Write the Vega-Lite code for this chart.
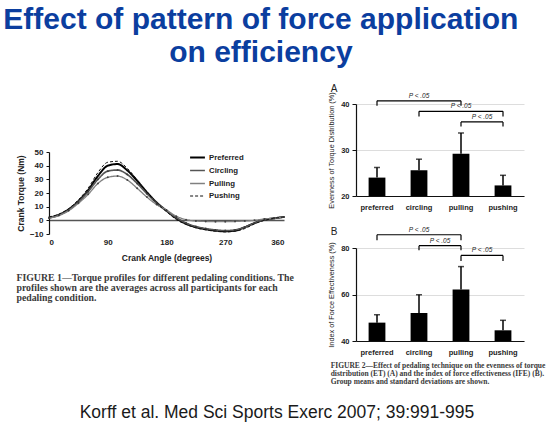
{
  "$schema": "https://vega.github.io/schema/vega-lite/v6.json",
  "padding": {"left": 3, "top": 4, "right": 2, "bottom": 4},
  "background": "white",
  "title": {
    "text": ["Effect of pattern of force application", "on efficiency"],
    "anchor": "middle",
    "font": "Liberation Sans",
    "fontSize": 30,
    "fontWeight": "bold",
    "color": "#0b3e9f",
    "lineHeight": 33,
    "dx": -20,
    "offset": 16
  },
  "datasets": {
    "torque": [
      {"angle": 0, "condition": "Preferred", "torque": 2.0}, {"angle": 0, "condition": "Circling", "torque": 2.0}, {"angle": 0, "condition": "Pulling", "torque": 1.5}, {"angle": 0, "condition": "Pushing", "torque": 2.5},
      {"angle": 15, "condition": "Preferred", "torque": 4.0}, {"angle": 15, "condition": "Circling", "torque": 4.0}, {"angle": 15, "condition": "Pulling", "torque": 3.5}, {"angle": 15, "condition": "Pushing", "torque": 4.5},
      {"angle": 30, "condition": "Preferred", "torque": 8.0}, {"angle": 30, "condition": "Circling", "torque": 7.5}, {"angle": 30, "condition": "Pulling", "torque": 7.0}, {"angle": 30, "condition": "Pushing", "torque": 8.5},
      {"angle": 45, "condition": "Preferred", "torque": 14.0}, {"angle": 45, "condition": "Circling", "torque": 13.5}, {"angle": 45, "condition": "Pulling", "torque": 12.5}, {"angle": 45, "condition": "Pushing", "torque": 15.0},
      {"angle": 60, "condition": "Preferred", "torque": 22.0}, {"angle": 60, "condition": "Circling", "torque": 21.0}, {"angle": 60, "condition": "Pulling", "torque": 19.0}, {"angle": 60, "condition": "Pushing", "torque": 23.5},
      {"angle": 75, "condition": "Preferred", "torque": 32.5}, {"angle": 75, "condition": "Circling", "torque": 30.0}, {"angle": 75, "condition": "Pulling", "torque": 27.0}, {"angle": 75, "condition": "Pushing", "torque": 35.0},
      {"angle": 90, "condition": "Preferred", "torque": 40.0}, {"angle": 90, "condition": "Circling", "torque": 36.0}, {"angle": 90, "condition": "Pulling", "torque": 31.5}, {"angle": 90, "condition": "Pushing", "torque": 42.5},
      {"angle": 105, "condition": "Preferred", "torque": 41.2}, {"angle": 105, "condition": "Circling", "torque": 36.8}, {"angle": 105, "condition": "Pulling", "torque": 32.4}, {"angle": 105, "condition": "Pushing", "torque": 43.2},
      {"angle": 120, "condition": "Preferred", "torque": 36.5}, {"angle": 120, "condition": "Circling", "torque": 33.5}, {"angle": 120, "condition": "Pulling", "torque": 29.5}, {"angle": 120, "condition": "Pushing", "torque": 38.0},
      {"angle": 135, "condition": "Preferred", "torque": 29.0}, {"angle": 135, "condition": "Circling", "torque": 27.0}, {"angle": 135, "condition": "Pulling", "torque": 23.5}, {"angle": 135, "condition": "Pushing", "torque": 29.5},
      {"angle": 150, "condition": "Preferred", "torque": 20.5}, {"angle": 150, "condition": "Circling", "torque": 19.5}, {"angle": 150, "condition": "Pulling", "torque": 17.0}, {"angle": 150, "condition": "Pushing", "torque": 20.5},
      {"angle": 165, "condition": "Preferred", "torque": 13.0}, {"angle": 165, "condition": "Circling", "torque": 12.5}, {"angle": 165, "condition": "Pulling", "torque": 11.5}, {"angle": 165, "condition": "Pushing", "torque": 12.5},
      {"angle": 180, "condition": "Preferred", "torque": 7.0}, {"angle": 180, "condition": "Circling", "torque": 7.0}, {"angle": 180, "condition": "Pulling", "torque": 7.5}, {"angle": 180, "condition": "Pushing", "torque": 6.5},
      {"angle": 195, "condition": "Preferred", "torque": 1.5}, {"angle": 195, "condition": "Circling", "torque": 2.0}, {"angle": 195, "condition": "Pulling", "torque": 3.0}, {"angle": 195, "condition": "Pushing", "torque": 0.5},
      {"angle": 210, "condition": "Preferred", "torque": -2.5}, {"angle": 210, "condition": "Circling", "torque": -2.0}, {"angle": 210, "condition": "Pulling", "torque": 0.5}, {"angle": 210, "condition": "Pushing", "torque": -3.0},
      {"angle": 225, "condition": "Preferred", "torque": -5.0}, {"angle": 225, "condition": "Circling", "torque": -4.5}, {"angle": 225, "condition": "Pulling", "torque": -0.5}, {"angle": 225, "condition": "Pushing", "torque": -5.5},
      {"angle": 240, "condition": "Preferred", "torque": -6.5}, {"angle": 240, "condition": "Circling", "torque": -6.0}, {"angle": 240, "condition": "Pulling", "torque": -0.8}, {"angle": 240, "condition": "Pushing", "torque": -7.0},
      {"angle": 255, "condition": "Preferred", "torque": -7.5}, {"angle": 255, "condition": "Circling", "torque": -7.0}, {"angle": 255, "condition": "Pulling", "torque": -1.0}, {"angle": 255, "condition": "Pushing", "torque": -8.0},
      {"angle": 270, "condition": "Preferred", "torque": -8.0}, {"angle": 270, "condition": "Circling", "torque": -7.5}, {"angle": 270, "condition": "Pulling", "torque": -1.0}, {"angle": 270, "condition": "Pushing", "torque": -8.5},
      {"angle": 285, "condition": "Preferred", "torque": -7.5}, {"angle": 285, "condition": "Circling", "torque": -7.0}, {"angle": 285, "condition": "Pulling", "torque": -0.8}, {"angle": 285, "condition": "Pushing", "torque": -8.0},
      {"angle": 300, "condition": "Preferred", "torque": -5.0}, {"angle": 300, "condition": "Circling", "torque": -5.0}, {"angle": 300, "condition": "Pulling", "torque": -0.5}, {"angle": 300, "condition": "Pushing", "torque": -6.0},
      {"angle": 315, "condition": "Preferred", "torque": -2.0}, {"angle": 315, "condition": "Circling", "torque": -2.0}, {"angle": 315, "condition": "Pulling", "torque": 0.0}, {"angle": 315, "condition": "Pushing", "torque": -2.5},
      {"angle": 330, "condition": "Preferred", "torque": 0.5}, {"angle": 330, "condition": "Circling", "torque": 0.5}, {"angle": 330, "condition": "Pulling", "torque": 1.0}, {"angle": 330, "condition": "Pushing", "torque": 0.0},
      {"angle": 345, "condition": "Preferred", "torque": 1.5}, {"angle": 345, "condition": "Circling", "torque": 1.5}, {"angle": 345, "condition": "Pulling", "torque": 1.5}, {"angle": 345, "condition": "Pushing", "torque": 1.5},
      {"angle": 360, "condition": "Preferred", "torque": 2.5}, {"angle": 360, "condition": "Circling", "torque": 2.5}, {"angle": 360, "condition": "Pulling", "torque": 2.5}, {"angle": 360, "condition": "Pushing", "torque": 2.5}
    ],
    "et": [
      {"technique": "preferred", "mean": 24.0, "upper": 26.2},
      {"technique": "circling", "mean": 25.6, "upper": 28.0},
      {"technique": "pulling", "mean": 29.2, "upper": 33.7},
      {"technique": "pushing", "mean": 22.3, "upper": 24.5}
    ],
    "etSig": [
      {"from": "preferred", "to": "pulling", "y": 40.7, "yEnd": 39.6, "label": "P < .05"},
      {"from": "circling", "to": "pushing", "y": 38.4, "yEnd": 37.3, "label": "P < .05"},
      {"from": "pulling", "to": "pushing", "y": 36.1, "yEnd": 35.1, "label": "P < .05"}
    ],
    "ife": [
      {"technique": "preferred", "mean": 47.9, "upper": 51.3},
      {"technique": "circling", "mean": 52.0, "upper": 59.9},
      {"technique": "pulling", "mean": 62.2, "upper": 72.0},
      {"technique": "pushing", "mean": 44.6, "upper": 48.9}
    ],
    "ifeSig": [
      {"from": "preferred", "to": "pulling", "y": 85.7, "yEnd": 83.3, "label": "P < .05"},
      {"from": "circling", "to": "pulling", "y": 81.0, "yEnd": 79.0, "label": "P < .05"},
      {"from": "pulling", "to": "pushing", "y": 76.8, "yEnd": 74.4, "label": "P < .05"}
    ],
    "footer": [{"ref": "Korff et al. Med Sci Sports Exerc 2007; 39:991-995"}]
  },
  "vconcat": [
    {
      "hconcat": [
        {
          "vconcat": [
            {"width": 10, "height": 36, "data": {"values": []}, "mark": "point"},
            {
              "width": 235,
              "height": 82,
              "title": {
                "text": ["FIGURE 1\u2014Torque profiles for different pedaling conditions. The", "profiles shown are the averages across all participants for each", "pedaling condition."],
                "orient": "bottom", "anchor": "start", "frame": "bounds",
                "font": "Liberation Serif", "fontSize": 9.8, "fontWeight": "bold", "color": "#3a3a3a",
                "lineHeight": 10.2, "offset": 11
              },
              "data": {"name": "torque"},
              "encoding": {
                "x": {"field": "angle", "type": "quantitative", "scale": {"domain": [0, 360], "nice": false},
                  "axis": {"values": [0, 90, 180, 270, 360], "title": "Crank Angle (degrees)", "domain": false, "ticks": false,
                    "labelFontSize": 8, "titleFontSize": 8.5, "labelPadding": 4, "titlePadding": 7}},
                "y": {"field": "torque", "type": "quantitative", "scale": {"domain": [-10, 50], "nice": false},
                  "axis": {"tickCount": 6, "title": "Crank Torque (Nm)", "tickSize": 3, "labelOverlap": false,
                    "labelFontSize": 8, "titleFontSize": 8.5, "titlePadding": 4, "labelPadding": 3,
                    "grid": true, "gridColor": "#555555", "gridWidth": 1.6,
                    "gridOpacity": {"condition": {"test": "datum.value === 0", "value": 1}, "value": 0}}}
              },
              "layer": [
                {
                  "mark": {"type": "line", "interpolate": "monotone"},
                  "encoding": {
                    "color": {"field": "condition", "type": "nominal",
                      "scale": {"domain": ["Preferred", "Circling", "Pulling", "Pushing"], "range": ["#000000", "#555555", "#808080", "#111111"]},
                      "legend": {"orient": "none", "legendX": 140, "legendY": 45, "title": null, "symbolType": "stroke", "symbolSize": 220,
                        "labelFontSize": 7.8, "labelFontWeight": "bold", "labelColor": "#222", "rowPadding": 0, "labelOffset": 3}},
                    "strokeDash": {"field": "condition", "type": "nominal",
                      "scale": {"domain": ["Preferred", "Circling", "Pulling", "Pushing"], "range": [[1, 0], [1, 0], [1, 0], [3, 2]]}},
                    "strokeWidth": {"field": "condition", "type": "nominal",
                      "scale": {"domain": ["Preferred", "Circling", "Pulling", "Pushing"], "range": [2, 1, 1, 1.3]}}
                  }
                },
                {
                  "transform": [{"filter": "datum.condition === 'Circling' || datum.condition === 'Pulling'"}],
                  "mark": {"type": "point", "filled": true, "size": 4, "color": "#333", "opacity": 0.8}
                }
              ]
            }
          ],
          "spacing": 8
        },
        {
          "vconcat": [
            {
              "width": 168,
              "height": 92,
              "title": {"text": "A", "anchor": "start", "frame": "bounds", "fontSize": 10, "fontWeight": "normal", "color": "#222", "offset": -2, "dx": 3},
              "layer": [
                {
                  "data": {"name": "et"},
                  "mark": {"type": "bar", "color": "#000"},
                  "encoding": {
                    "x": {"field": "technique", "type": "nominal",
                      "scale": {"domain": ["preferred", "circling", "pulling", "pushing"], "paddingInner": 0.6, "paddingOuter": 0.3},
                      "axis": {"title": null, "ticks": false, "labelAngle": 0, "labelFontSize": 7.5, "labelPadding": 7}},
                    "y": {"field": "mean", "type": "quantitative", "scale": {"domain": [20, 40], "zero": false},
                      "axis": {"values": [20, 30, 40], "title": "Evenness of Torque Distribution (%)", "tickSize": 4,
                        "labelFontSize": 7.5, "titleFontSize": 7.3, "titleFontWeight": "normal", "titlePadding": 5, "labelPadding": 3}},
                    "y2": {"datum": 20}
                  }
                },
                {
                  "data": {"name": "et"},
                  "mark": {"type": "rule", "color": "#000", "strokeWidth": 1.5},
                  "encoding": {"x": {"field": "technique", "type": "nominal"}, "y": {"field": "mean", "type": "quantitative"}, "y2": {"field": "upper"}}
                },
                {
                  "data": {"name": "et"},
                  "mark": {"type": "tick", "color": "#000", "size": 6, "thickness": 1.5},
                  "encoding": {"x": {"field": "technique", "type": "nominal"}, "y": {"field": "upper", "type": "quantitative"}}
                },
                {
                  "data": {"name": "etSig"},
                  "mark": {"type": "rule", "color": "#000", "strokeWidth": 1.2},
                  "encoding": {"x": {"field": "from", "type": "nominal"}, "x2": {"field": "to"}, "y": {"field": "y", "type": "quantitative"}}
                },
                {
                  "data": {"name": "etSig"},
                  "mark": {"type": "rule", "color": "#000", "strokeWidth": 1.2},
                  "encoding": {"x": {"field": "from", "type": "nominal"}, "y": {"field": "y", "type": "quantitative"}, "y2": {"field": "yEnd"}}
                },
                {
                  "data": {"name": "etSig"},
                  "mark": {"type": "rule", "color": "#000", "strokeWidth": 1.2},
                  "encoding": {"x": {"field": "to", "type": "nominal"}, "y": {"field": "y", "type": "quantitative"}, "y2": {"field": "yEnd"}}
                },
                {
                  "data": {"name": "etSig"},
                  "transform": [{"filter": "indexof(['preferred','circling','pulling','pushing'], datum.to) - indexof(['preferred','circling','pulling','pushing'], datum.from) == 2"}],
                  "mark": {"type": "text", "fontSize": 6.5, "fontStyle": "italic", "baseline": "bottom", "dy": -2, "color": "#222"},
                  "encoding": {"x": {"field": "from", "type": "nominal", "bandPosition": 3}, "y": {"field": "y", "type": "quantitative"}, "text": {"field": "label"}}
                },
                {
                  "data": {"name": "etSig"},
                  "transform": [{"filter": "indexof(['preferred','circling','pulling','pushing'], datum.to) - indexof(['preferred','circling','pulling','pushing'], datum.from) == 1"}],
                  "mark": {"type": "text", "fontSize": 6.5, "fontStyle": "italic", "baseline": "bottom", "dy": -2, "color": "#222"},
                  "encoding": {"x": {"field": "from", "type": "nominal", "bandPosition": 1.75}, "y": {"field": "y", "type": "quantitative"}, "text": {"field": "label"}}
                }
              ]
            },
            {
              "width": 168,
              "height": 93,
              "title": {"text": "B", "anchor": "start", "frame": "bounds", "fontSize": 10, "fontWeight": "normal", "color": "#222", "offset": -10, "dx": 3},
              "layer": [
                {
                  "data": {"name": "ife"},
                  "mark": {"type": "bar", "color": "#000"},
                  "encoding": {
                    "x": {"field": "technique", "type": "nominal",
                      "scale": {"domain": ["preferred", "circling", "pulling", "pushing"], "paddingInner": 0.6, "paddingOuter": 0.3},
                      "axis": {"title": null, "ticks": false, "labelAngle": 0, "labelFontSize": 7.5, "labelPadding": 7}},
                    "y": {"field": "mean", "type": "quantitative", "scale": {"domain": [40, 80], "zero": false},
                      "axis": {"values": [40, 60, 80], "title": "Index of Force Effectiveness (%)", "tickSize": 4,
                        "labelFontSize": 7.5, "titleFontSize": 7.3, "titleFontWeight": "normal", "titlePadding": 5, "labelPadding": 3}},
                    "y2": {"datum": 40}
                  }
                },
                {
                  "data": {"name": "ife"},
                  "mark": {"type": "rule", "color": "#000", "strokeWidth": 1.5},
                  "encoding": {"x": {"field": "technique", "type": "nominal"}, "y": {"field": "mean", "type": "quantitative"}, "y2": {"field": "upper"}}
                },
                {
                  "data": {"name": "ife"},
                  "mark": {"type": "tick", "color": "#000", "size": 6, "thickness": 1.5},
                  "encoding": {"x": {"field": "technique", "type": "nominal"}, "y": {"field": "upper", "type": "quantitative"}}
                },
                {
                  "data": {"name": "ifeSig"},
                  "mark": {"type": "rule", "color": "#000", "strokeWidth": 1.2},
                  "encoding": {"x": {"field": "from", "type": "nominal"}, "x2": {"field": "to"}, "y": {"field": "y", "type": "quantitative"}}
                },
                {
                  "data": {"name": "ifeSig"},
                  "mark": {"type": "rule", "color": "#000", "strokeWidth": 1.2},
                  "encoding": {"x": {"field": "from", "type": "nominal"}, "y": {"field": "y", "type": "quantitative"}, "y2": {"field": "yEnd"}}
                },
                {
                  "data": {"name": "ifeSig"},
                  "mark": {"type": "rule", "color": "#000", "strokeWidth": 1.2},
                  "encoding": {"x": {"field": "to", "type": "nominal"}, "y": {"field": "y", "type": "quantitative"}, "y2": {"field": "yEnd"}}
                },
                {
                  "data": {"name": "ifeSig"},
                  "transform": [{"filter": "indexof(['preferred','circling','pulling','pushing'], datum.to) - indexof(['preferred','circling','pulling','pushing'], datum.from) == 2"}],
                  "mark": {"type": "text", "fontSize": 6.5, "fontStyle": "italic", "baseline": "bottom", "dy": -2, "color": "#222"},
                  "encoding": {"x": {"field": "from", "type": "nominal", "bandPosition": 3}, "y": {"field": "y", "type": "quantitative"}, "text": {"field": "label"}}
                },
                {
                  "data": {"name": "ifeSig"},
                  "transform": [{"filter": "indexof(['preferred','circling','pulling','pushing'], datum.to) - indexof(['preferred','circling','pulling','pushing'], datum.from) == 1"}],
                  "mark": {"type": "text", "fontSize": 6.5, "fontStyle": "italic", "baseline": "bottom", "dy": -2, "color": "#222"},
                  "encoding": {"x": {"field": "from", "type": "nominal", "bandPosition": 1.75}, "y": {"field": "y", "type": "quantitative"}, "text": {"field": "label"}}
                }
              ]
            }
          ],
          "spacing": 15,
          "title": {
            "text": ["FIGURE 2\u2014Effect of pedaling technique on the evenness of torque", "distribution (ET) (A) and the index of force effectiveness (IFE) (B).", "Group means and standard deviations are shown."],
            "orient": "bottom", "anchor": "start", "frame": "bounds",
            "font": "Liberation Serif", "fontSize": 7.5, "fontWeight": "bold", "color": "#3a3a3a",
            "lineHeight": 8, "offset": 6, "dx": 3
          }
        }
      ],
      "spacing": 32
    },
    {
      "width": 456,
      "height": 20,
      "data": {"name": "footer"},
      "mark": {"type": "text", "font": "Liberation Sans", "fontSize": 17.5, "color": "#1a1a1a"},
      "encoding": {"text": {"field": "ref"}}
    }
  ],
  "spacing": 18,
  "config": {
    "view": {"stroke": null},
    "font": "Liberation Sans",
    "axis": {
      "labelFont": "Liberation Sans", "titleFont": "Liberation Sans",
      "labelFontWeight": "bold", "titleFontWeight": "bold",
      "labelColor": "#222", "titleColor": "#222",
      "domainColor": "#111", "tickColor": "#111", "domainWidth": 1.2
    },
    "axisX": {"grid": false},
    "axisBand": {"grid": false}
  }
}
